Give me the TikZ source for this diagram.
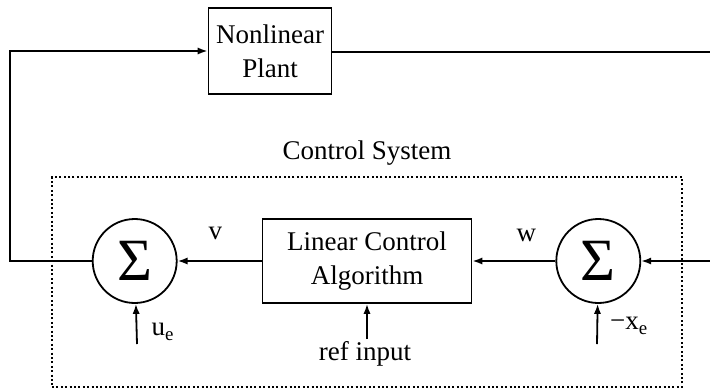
\documentclass[tikz,border=0pt]{standalone}
\usepackage{fontspec}
\setmainfont{Liberation Serif}
\usepackage{tikz}
\usetikzlibrary{positioning,arrows.meta,calc}

\begin{document}
\begin{tikzpicture}[x=0.5pt, y=-0.5pt,
  every node/.style={font=\fontsize{13.5}{17}\selectfont},
  box/.style={draw, line width=0.9pt, align=center, inner sep=0pt},
  sum/.style={draw, circle, line width=0.9pt, minimum size=42pt, inner sep=0pt, font=\fontsize{30}{30}\selectfont},
  arr/.style={-{Latex[length=5pt, width=3.6pt]}, line width=0.9pt},
  wire/.style={line width=0.9pt},
  lbl/.style={inner sep=1pt}
]
\useasboundingbox (0,0) rectangle (710,391);

\node[box, minimum width=61.5pt, minimum height=43pt] (plant) at (270,51) {Nonlinear\\Plant};
\node[box, minimum width=104.5pt, minimum height=42pt] (lca) at (367,261) {Linear Control\\Algorithm};
\node[sum, left=42pt of lca] (sumL) {Σ};
\node[sum, right=41.5pt of lca] (sumR) {Σ};

% control system boundary
\node[draw, line width=1pt, dash pattern=on 1pt off 1.2pt, minimum width=315pt, minimum height=105pt,
      label={[label distance=2pt]above:Control System}] (ctrl) at (367,282) {};

\coordinate (in) at (710,261);
\coordinate (out) at (710,52);
\coordinate (fb) at (10,261);
\coordinate (ue) at (137,344);
\coordinate (xe) at (597,344);
\node[lbl] (refin) at (365,354) {ref input};

\draw[wire] (plant.east |- out) -- (out);
\draw[arr] (sumL) -- (fb) |- (plant);
\draw[arr] (in) -- (sumR);
\draw[arr] (sumR) -- node[lbl, above=8pt, pos=0.35] {w} (lca);
\draw[arr] (lca) -- node[lbl, above=9pt, pos=0.55] {v} (sumL);
\draw[arr] (ue) -- node[lbl, right=6pt, pos=0.3] {u\textsubscript{e}} (sumL);
\draw[arr] (xe) -- node[lbl, right=5pt, pos=0.45] {−x\textsubscript{e}} (sumR);
\draw[arr] (refin.north -| lca) -- (lca);
\end{tikzpicture}
\end{document}
